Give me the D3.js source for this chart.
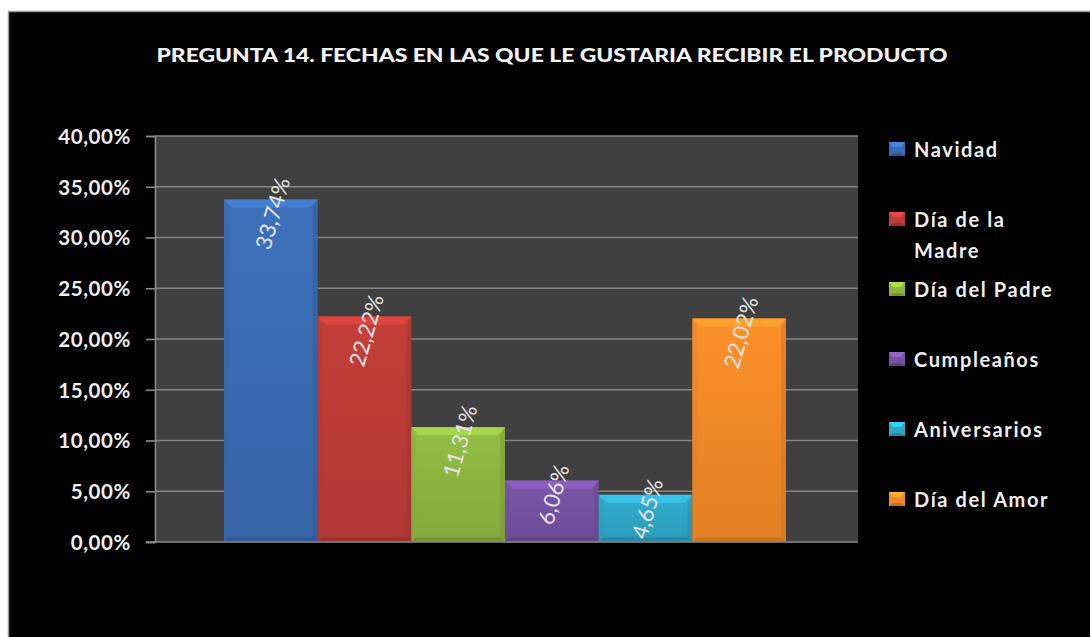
<!DOCTYPE html>
<html>
<head>
<meta charset="utf-8">
<script src="https://cdn.jsdelivr.net/npm/d3@7/dist/d3.min.js"></script>
<style>
  html, body { margin: 0; padding: 0; background: #ffffff; }
  svg { display: block; }
</style>
</head>
<body>
<svg id="chart" width="1090" height="637"></svg>
<script>
// Survey question 14: preferred dates to receive the product
const title = "PREGUNTA 14. FECHAS EN  LAS QUE LE GUSTARIA  RECIBIR EL PRODUCTO";
const series = ["Navidad", "Día de la Madre", "Día del Padre", "Cumpleaños", "Aniversarios", "Día del Amor"];
const legendLines = [["Navidad"], ["Día de la", "Madre"], ["Día del Padre"], ["Cumpleaños"], ["Aniversarios"], ["Día del Amor"]];
const values = [0.3374, 0.2222, 0.1131, 0.0606, 0.0465, 0.2202];
const valueLabels = ["33,74%", "22,22%", "11,31%", "6,06%", "4,65%", "22,02%"];
const yTicks = [0, 0.05, 0.10, 0.15, 0.20, 0.25, 0.30, 0.35, 0.40];
const colors = ["#3a6cb3", "#bd3c37", "#8db640", "#7652a2", "#30a6c7", "#f28a27"];

const svg = d3.select("#chart");
const W = 1090, H = 637;
const plot = { left: 155, right: 858, top: 136, bottom: 542 };
const barGap = 69;
const font = "Lato, 'Open Sans', sans-serif";

// outer chart frame
svg.append("rect").attr("x", 8.5).attr("y", 11.5).attr("width", W).attr("height", H)
  .attr("fill", "#000").attr("stroke", "#9a9a9a").attr("stroke-width", 1.5);

svg.append("text")
  .attr("x", 552).attr("y", 62)
  .attr("text-anchor", "middle")
  .attr("font-family", font)
  .attr("font-weight", 900).attr("font-size", 19)
  .attr("fill", "#f2f2f2")
  .attr("textLength", 791).attr("lengthAdjust", "spacingAndGlyphs")
  .text(title);

const y = d3.scaleLinear().domain([0, 0.40]).range([plot.bottom, plot.top]);
const x = d3.scaleBand().domain(series)
  .range([plot.left + barGap, plot.right - barGap - 3]).padding(0);

const locale = d3.formatLocale({ decimal: ",", thousands: ".", grouping: [3], currency: ["", ""], percent: "%" });
const fmt = locale.format(".2%");

// plot background
svg.append("rect").attr("x", plot.left).attr("y", plot.top)
  .attr("width", plot.right - plot.left).attr("height", plot.bottom - plot.top)
  .attr("fill", "#404040");

// gridlines
svg.append("g").selectAll("line").data(yTicks.filter(t => t > 0)).join("line")
  .attr("x1", plot.left).attr("x2", plot.right)
  .attr("y1", d => y(d)).attr("y2", d => y(d))
  .attr("stroke", "#858585").attr("stroke-width", 1.6);

// y axis
const yAxis = svg.append("g").attr("transform", `translate(${plot.left},0)`)
  .call(d3.axisLeft(y).tickValues(yTicks).tickFormat(fmt).tickSize(9).tickPadding(15));
yAxis.select(".domain").attr("stroke", "#8a8a8a").attr("stroke-width", 1.6);
yAxis.selectAll(".tick line").attr("stroke", "#8a8a8a").attr("stroke-width", 1.6);
yAxis.selectAll(".tick text")
  .attr("fill", "#efefef")
  .attr("font-family", font)
  .attr("font-weight", "bold").attr("font-size", 20.5)
  .attr("letter-spacing", 0.6)
  .attr("dy", "0.36em");

// beveled bars
const bev = 8;
const defs = svg.append("defs");
const bars = svg.append("g").selectAll("g").data(series).join("g");
bars.each(function (s, i) {
  const g = d3.select(this);
  const x0 = x(s), w = x.bandwidth(), y0 = y(values[i]), y1 = y(0), h = y1 - y0;
  const c = d3.color(colors[i]);
  const id = "grad" + i;
  const grad = defs.append("linearGradient").attr("id", id)
    .attr("x1", 0).attr("y1", 0).attr("x2", 0).attr("y2", 1);
  grad.append("stop").attr("offset", 0).attr("stop-color", c.brighter(0.12));
  grad.append("stop").attr("offset", 1).attr("stop-color", c.darker(0.2));
  g.append("rect").attr("x", x0).attr("y", y0).attr("width", w).attr("height", h).attr("fill", `url(#${id})`);
  const b = Math.min(bev, h / 2);
  // top bevel
  g.append("polygon")
    .attr("points", [[x0, y0], [x0 + w, y0], [x0 + w - b, y0 + b], [x0 + b, y0 + b]].join(" "))
    .attr("fill", c.brighter(0.5)).attr("opacity", 0.85);
  // left bevel
  g.append("polygon")
    .attr("points", [[x0, y0], [x0 + b * 0.6, y0 + b], [x0 + b * 0.6, y1 - b * 0.6], [x0, y1]].join(" "))
    .attr("fill", c.darker(0.15)).attr("opacity", 0.45);
  // right bevel
  g.append("polygon")
    .attr("points", [[x0 + w, y0], [x0 + w - b * 0.6, y0 + b], [x0 + w - b * 0.6, y1 - b * 0.6], [x0 + w, y1]].join(" "))
    .attr("fill", c.darker(0.5)).attr("opacity", 0.5);
  // bottom bevel
  g.append("polygon")
    .attr("points", [[x0, y1], [x0 + b * 0.6, y1 - b * 0.6], [x0 + w - b * 0.6, y1 - b * 0.6], [x0 + w, y1]].join(" "))
    .attr("fill", c.darker(0.7)).attr("opacity", 0.7);
});

// value labels, slanted
svg.append("g").selectAll("text").data(series).join("text")
  .attr("transform", (s, i) => `translate(${x(s) + x.bandwidth() / 2 + 2},${y(values[i]) + 14}) rotate(-74)`)
  .attr("text-anchor", "middle").attr("dy", "0.35em")
  .attr("font-family", font)
  .attr("font-size", 22)
  .attr("fill", "#e4e4e4")
  .text((s, i) => valueLabels[i]);

// bottom axis line
svg.append("line").attr("x1", plot.left - 9).attr("x2", plot.right)
  .attr("y1", plot.bottom).attr("y2", plot.bottom)
  .attr("stroke", "#8a8a8a").attr("stroke-width", 1.6);

// legend
const legend = svg.append("g");
const legendY = d3.scaleLinear().domain([0, series.length - 1]).range([157, 507]);
series.forEach((s, i) => {
  const by = legendY(i);
  const c = d3.color(colors[i]);
  const lg = legend.append("g");
  lg.append("rect").attr("x", 889).attr("y", by - 15).attr("width", 16).attr("height", 14).attr("fill", c);
  lg.append("polygon")
    .attr("points", [[889, by - 15], [905, by - 15], [901, by - 10], [893, by - 10]].join(" "))
    .attr("fill", c.brighter(0.6));
  lg.append("polygon")
    .attr("points", [[889, by - 1], [905, by - 1], [901, by - 4], [893, by - 4]].join(" "))
    .attr("fill", c.darker(0.6));
  legendLines[i].forEach((line, k) => {
    lg.append("text").attr("x", 914).attr("y", by + k * 31)
      .attr("font-family", font)
      .attr("font-weight", "bold").attr("font-size", 20)
      .attr("letter-spacing", 1.6)
      .attr("fill", "#efefef")
      .text(line);
  });
});
</script>
</body>
</html>
